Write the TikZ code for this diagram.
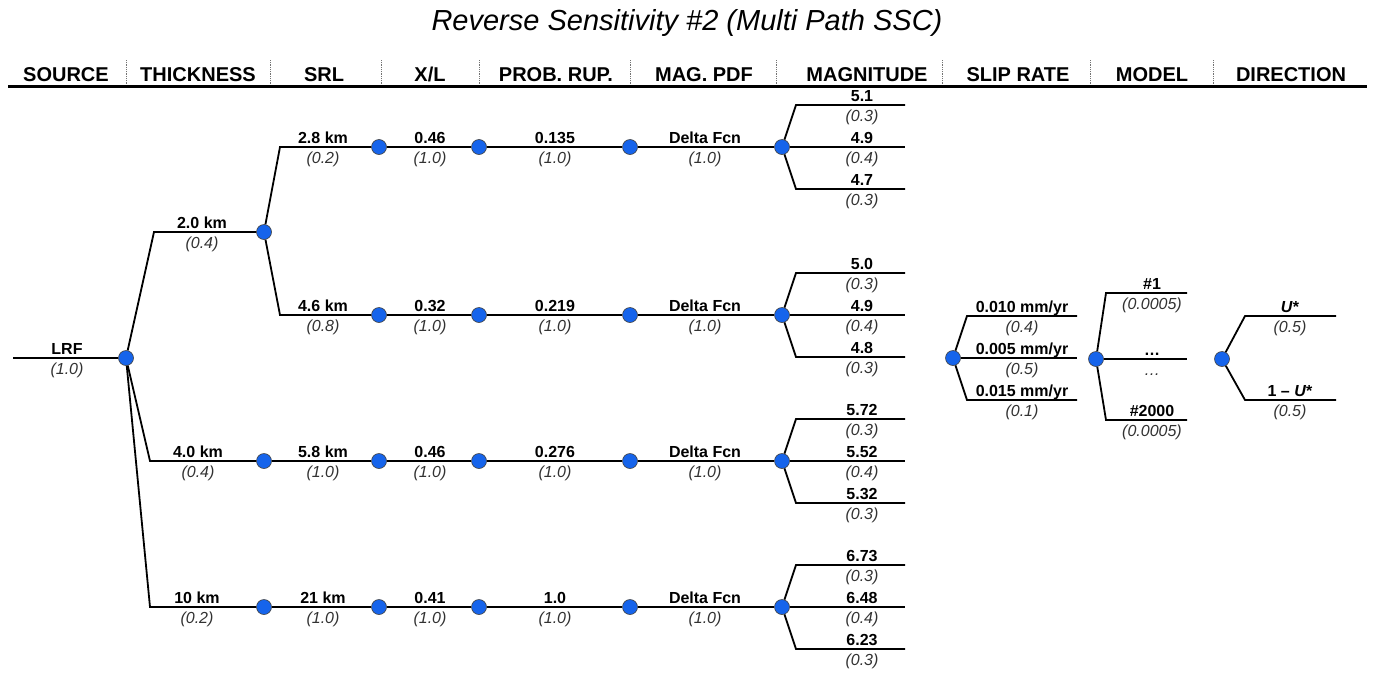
\documentclass[tikz,border=0pt]{standalone}
\usepackage{fontspec}
\setmainfont{Liberation Sans}
\definecolor{dotblue}{RGB}{22,100,235}
\definecolor{probgray}{RGB}{50,50,50}
\newcommand\lbl[5]{%
  \node[toplab] (#1t) at (#2,#3-4) {#4};
  \node[botlab] (#1b) at (#2,#3+16) {#5};}
\begin{document}
\begin{tikzpicture}[x=1pt,y=-1pt,
  dot/.style={circle,fill=dotblue,draw=black!75,line width=0.6pt,minimum size=15pt,inner sep=0pt},
  br/.style={line width=1.8pt,line join=miter},
  toplab/.style={anchor=base,inner sep=0pt,font=\bfseries\fontsize{16}{18}\selectfont},
  botlab/.style={anchor=base,inner sep=0pt,text=probgray,font=\itshape\fontsize{16}{18}\selectfont},
  head/.style={anchor=base,inner sep=0pt,font=\bfseries\fontsize{20}{24}\selectfont},
  sep/.style={densely dotted,line width=0.8pt,black!55}]
\useasboundingbox (0,0) rectangle (1378,675);
% title
\node[anchor=base,font=\itshape\fontsize{29}{34}\selectfont] (title) at (687,30) {Reverse Sensitivity \#2 (Multi Path SSC)};
% header
\node[head] (hsrc) at (66,81) {SOURCE};
\node[head] (hthk) at (198,81) {THICKNESS};
\node[head] (hsrl) at (324,81) {SRL};
\node[head] (hxl) at (430,81) {X/L};
\node[head] (hpr) at (556,81) {PROB. RUP.};
\node[head] (hmp) at (704,81) {MAG. PDF};
\node[head] (hmag) at (867,81) {MAGNITUDE};
\node[head] (hsr) at (1018,81) {SLIP RATE};
\node[head] (hmod) at (1152,81) {MODEL};
\node[head] (hdir) at (1291,81) {DIRECTION};
\foreach \sx in {126,270,381,479,630,776,942,1090,1213}
  \draw[sep] (\sx,60) -- (\sx,84);
\draw[line width=3pt] (8,86) -- (1367,86);
% dots
\node[dot] (n0) at (126,358) {};
\node[dot] (t1) at (264,232) {};
\node[dot] (t2) at (264,461) {};
\node[dot] (t3) at (264,607) {};
\foreach \r/\y in {1/147,2/315,3/461,4/607}{
  \node[dot] (s\r) at (379,\y) {};
  \node[dot] (x\r) at (479,\y) {};
  \node[dot] (p\r) at (630,\y) {};
  \node[dot] (m\r) at (782,\y) {};
  \coordinate (mt\r) at (796,\y-42);
  \coordinate (mte\r) at (905,\y-42);
  \coordinate (mme\r) at (905,\y);
  \coordinate (mb\r) at (796,\y+42);
  \coordinate (mbe\r) at (905,\y+42);
}
\node[dot] (sr) at (953,358) {};
\node[dot] (md) at (1096,359) {};
\node[dot] (dr) at (1222,359) {};
% coordinates
\coordinate (lrf) at (13,358);
\coordinate (bt1) at (154,232);
\coordinate (bt2) at (150,461);
\coordinate (bt3) at (150,607);
\coordinate (bs1) at (280,147);
\coordinate (bs2) at (280,315);
\coordinate (srt) at (967,316);
\coordinate (srte) at (1077,316);
\coordinate (srme) at (1077,358);
\coordinate (srb) at (967,400);
\coordinate (srbe) at (1077,400);
\coordinate (mdt) at (1106,293);
\coordinate (mdte) at (1187,293);
\coordinate (mdme) at (1187,359);
\coordinate (mdb) at (1106,420);
\coordinate (mdbe) at (1187,420);
\coordinate (drt) at (1245,316);
\coordinate (drte) at (1336,316);
\coordinate (drb) at (1245,400);
\coordinate (drbe) at (1336,400);
% connectors
\draw[br] (lrf) -- (n0);
\draw[br] (n0) -- (bt1) -- (t1);
\draw[br] (n0) -- (bt2) -- (t2);
\draw[br] (n0) -- (bt3) -- (t3);
\draw[br] (t1) -- (bs1) -- (s1);
\draw[br] (t1) -- (bs2) -- (s2);
\draw[br] (t2) -- (s3);
\draw[br] (t3) -- (s4);
\foreach \r in {1,2,3,4}{
  \draw[br] (s\r) -- (x\r);
  \draw[br] (x\r) -- (p\r);
  \draw[br] (p\r) -- (m\r);
  \draw[br] (m\r) -- (mt\r) -- (mte\r);
  \draw[br] (m\r) -- (mme\r);
  \draw[br] (m\r) -- (mb\r) -- (mbe\r);
}
\draw[br] (sr) -- (srt) -- (srte);
\draw[br] (sr) -- (srme);
\draw[br] (sr) -- (srb) -- (srbe);
\draw[br] (md) -- (mdt) -- (mdte);
\draw[br] (md) -- (mdme);
\draw[br] (md) -- (mdb) -- (mdbe);
\draw[br] (dr) -- (drt) -- (drte);
\draw[br] (dr) -- (drb) -- (drbe);
% labels
\lbl{lLRF}{67}{358}{LRF}{(1.0)}
\lbl{lT1}{202}{232}{2.0 km}{(0.4)}
\lbl{lT2}{198}{461}{4.0 km}{(0.4)}
\lbl{lT3}{197}{607}{10 km}{(0.2)}
\lbl{lS1}{323}{147}{2.8 km}{(0.2)}
\lbl{lS2}{323}{315}{4.6 km}{(0.8)}
\lbl{lS3}{323}{461}{5.8 km}{(1.0)}
\lbl{lS4}{323}{607}{21 km}{(1.0)}
\lbl{lX1}{430}{147}{0.46}{(1.0)}
\lbl{lX2}{430}{315}{0.32}{(1.0)}
\lbl{lX3}{430}{461}{0.46}{(1.0)}
\lbl{lX4}{430}{607}{0.41}{(1.0)}
\lbl{lP1}{555}{147}{0.135}{(1.0)}
\lbl{lP2}{555}{315}{0.219}{(1.0)}
\lbl{lP3}{555}{461}{0.276}{(1.0)}
\lbl{lP4}{555}{607}{1.0}{(1.0)}
\lbl{lM1}{705}{147}{Delta Fcn}{(1.0)}
\lbl{lM2}{705}{315}{Delta Fcn}{(1.0)}
\lbl{lM3}{705}{461}{Delta Fcn}{(1.0)}
\lbl{lM4}{705}{607}{Delta Fcn}{(1.0)}
\lbl{lA1}{862}{105}{5.1}{(0.3)}
\lbl{lA2}{862}{147}{4.9}{(0.4)}
\lbl{lA3}{862}{189}{4.7}{(0.3)}
\lbl{lB1}{862}{273}{5.0}{(0.3)}
\lbl{lB2}{862}{315}{4.9}{(0.4)}
\lbl{lB3}{862}{357}{4.8}{(0.3)}
\lbl{lC1}{862}{419}{5.72}{(0.3)}
\lbl{lC2}{862}{461}{5.52}{(0.4)}
\lbl{lC3}{862}{503}{5.32}{(0.3)}
\lbl{lD1}{862}{565}{6.73}{(0.3)}
\lbl{lD2}{862}{607}{6.48}{(0.4)}
\lbl{lD3}{862}{649}{6.23}{(0.3)}
\lbl{lR1}{1022}{316}{0.010 mm/yr}{(0.4)}
\lbl{lR2}{1022}{358}{0.005 mm/yr}{(0.5)}
\lbl{lR3}{1022}{400}{0.015 mm/yr}{(0.1)}
\lbl{lO1}{1152}{293}{\#1}{(0.0005)}
\lbl{lO2}{1152}{359}{\ldots}{\ldots}
\lbl{lO3}{1152}{420}{\#2000}{(0.0005)}
\lbl{lU1}{1290}{316}{\textit{U}*}{(0.5)}
\lbl{lU2}{1290}{400}{1 -- \textit{U}*}{(0.5)}
\end{tikzpicture}
\end{document}
